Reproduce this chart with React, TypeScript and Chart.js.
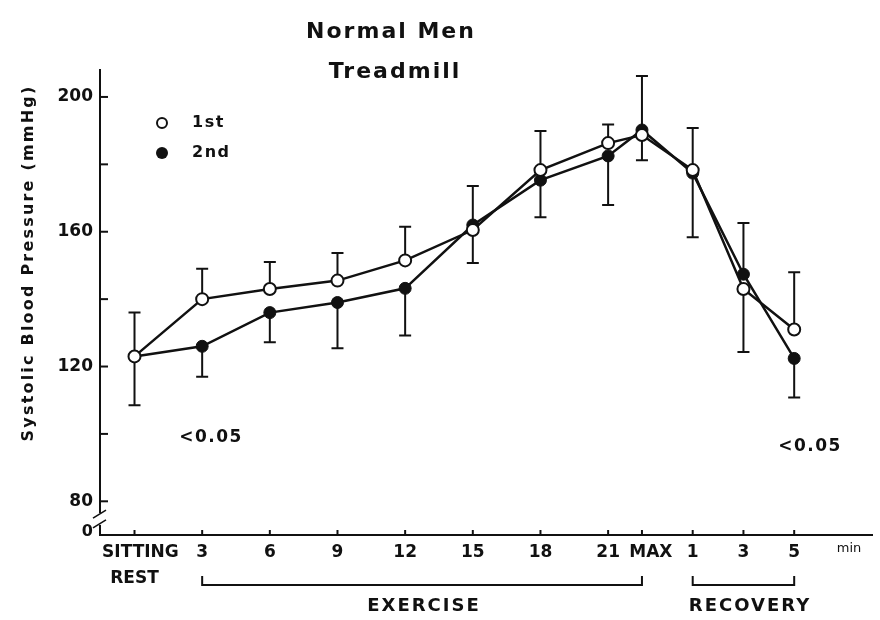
import React, { useEffect, useRef } from 'react';
import { Chart, registerables } from 'chart.js';

Chart.register(...registerables);

// ---- data ----
const categories = ['SITTING REST', '3', '6', '9', '12', '15', '18', '21', 'MAX', '1', '3', '5'];
const tickLabels: (string | string[])[] = [['  SITTING', 'REST'], '3', '6', '9', '12', '15', '18', '21', '   MAX', '1', '3', '5'];
const xSlots = [0, 1, 2, 3, 4, 5, 6, 7, 7.5, 8.25, 9, 9.75];
const firstValues = [123, 140, 143, 145.5, 151.5, 160.5, 178.3, 186.3, 188.7, 178.3, 143, 131];
const secondValues = [123, 126, 136, 139, 143.2, 162, 175.3, 182.5, 190.2, 177.4, 147.4, 122.4];
const firstSD = [13, 9, 8, 8.2, 10, 9.8, 11.6, 5.5, 7.5, 12.5, 18.7, 17];
const secondSD = [14.5, 9, 8.8, 13.6, 14, 11.6, 11, 14.6, 16, 19, 15.2, 11.6];
const yTickValues = [80, 100, 120, 140, 160, 180, 200];
const yLabelEvery = 40;
const unitLabel = 'min';
const unitSlot = 10.56;
const seriesNames = ['1st', '2nd'];
const pNote = '<0.05';
const titleLines = ['Normal Men', 'Treadmill'];
const yTitle = 'Systolic Blood Pressure (mmHg)';
const exerciseRange = [1, 7.5];
const recoveryRange = [8.25, 9.75];

const FONT = '"DejaVu Sans", "Liberation Sans", sans-serif';
const INK = '#111';

const decorPlugin = {
  id: 'decor',
  beforeDatasetsDraw(chart: any) {
    const { ctx, scales } = chart;
    const xs = scales.x, ys = scales.y;
    ctx.save();
    ctx.strokeStyle = INK;
    ctx.lineWidth = 2;
    for (let i = 0; i < xSlots.length; i++) {
      const px = xs.getPixelForValue(xSlots[i]);
      const pairs = [
        [firstValues[i], firstSD[i], secondValues[i], true],
        [secondValues[i], secondSD[i], firstValues[i], false],
      ] as [number, number, number, boolean][];
      for (const [v, sd, other, isFirst] of pairs) {
        const up = isFirst ? v >= other : v > other;
        const end = up ? v + sd : v - sd;
        const y0 = ys.getPixelForValue(v);
        const y1 = ys.getPixelForValue(end);
        ctx.beginPath();
        ctx.moveTo(px, y0);
        ctx.lineTo(px, y1);
        ctx.moveTo(px - 6, y1);
        ctx.lineTo(px + 6, y1);
        ctx.stroke();
      }
    }
    ctx.restore();
  },
  afterDraw(chart: any) {
    const { ctx, scales, chartArea } = chart;
    const xs = scales.x, ys = scales.y;
    ctx.save();
    ctx.strokeStyle = INK;
    ctx.fillStyle = INK;
    ctx.lineWidth = 2;
    // x tick marks (inward)
    for (const s of xSlots) {
      const px = xs.getPixelForValue(s);
      ctx.beginPath();
      ctx.moveTo(px, chartArea.bottom);
      ctx.lineTo(px, chartArea.bottom - 5);
      ctx.stroke();
    }
    // y tick marks (inward)
    for (const v of yTickValues) {
      const py = ys.getPixelForValue(v);
      ctx.beginPath();
      ctx.moveTo(chartArea.left, py);
      ctx.lineTo(chartArea.left + 8, py);
      ctx.stroke();
    }
    // axis break
    const bTop = ys.getPixelForValue(76.5);
    const bBot = ys.getPixelForValue(73);
    ctx.fillStyle = '#fff';
    ctx.fillRect(chartArea.left - 3, bTop, 6, bBot - bTop);
    ctx.fillStyle = INK;
    ctx.lineWidth = 1.6;
    ctx.beginPath();
    ctx.moveTo(chartArea.left - 7, bTop + 5);
    ctx.lineTo(chartArea.left + 6, bTop - 3);
    ctx.moveTo(chartArea.left - 7, bBot + 3);
    ctx.lineTo(chartArea.left + 6, bBot - 5);
    ctx.stroke();
    ctx.lineWidth = 2;

    ctx.textBaseline = 'middle';
    (ctx as any).letterSpacing = '0px';
    // "0" at axis origin
    ctx.font = `bold 16px ${FONT}`;
    ctx.textAlign = 'right';
    ctx.fillText('0', chartArea.left - 7, chartArea.bottom - 3);

    // title
    (ctx as any).letterSpacing = '2px';
    ctx.textAlign = 'center';
    ctx.font = `bold 22px ${FONT}`;
    ctx.fillText(titleLines[0], 391, 32);
    ctx.fillText(titleLines[1], 395, 72);

    // legend
    ctx.lineWidth = 2;
    ctx.beginPath();
    ctx.arc(162, 123, 5, 0, Math.PI * 2);
    ctx.fillStyle = '#fff';
    ctx.fill();
    ctx.stroke();
    ctx.fillStyle = INK;
    ctx.beginPath();
    ctx.arc(162, 153, 6, 0, Math.PI * 2);
    ctx.fill();
    (ctx as any).letterSpacing = '1.5px';
    ctx.font = `bold 16px ${FONT}`;
    ctx.textAlign = 'left';
    ctx.fillText(seriesNames[0], 192, 123);
    ctx.fillText(seriesNames[1], 192, 153);

    // p notes
    (ctx as any).letterSpacing = '1.5px';
    ctx.font = `bold 17px ${FONT}`;
    ctx.textAlign = 'center';
    ctx.fillText(pNote, 211, 438);
    ctx.fillText(pNote, 810, 447);

    // y title
    ctx.save();
    ctx.translate(29, 263);
    ctx.rotate(-Math.PI / 2);
    (ctx as any).letterSpacing = '2.2px';
    ctx.font = `bold 16px ${FONT}`;
    ctx.fillText(yTitle, 0, 0);
    ctx.restore();

    // brackets
    const bracket = (a: number, b: number, label: string, lx?: number) => {
      const x0 = xs.getPixelForValue(a);
      const x1 = xs.getPixelForValue(b);
      const yb = 585, yt = 576;
      ctx.beginPath();
      ctx.moveTo(x0, yt);
      ctx.lineTo(x0, yb);
      ctx.lineTo(x1, yb);
      ctx.lineTo(x1, yt);
      ctx.stroke();
      ctx.font = `bold 18px ${FONT}`;
      (ctx as any).letterSpacing = '2px';
      ctx.textAlign = 'center';
      ctx.fillText(label, lx ?? (x0 + x1) / 2, 606);
    };
    bracket(exerciseRange[0], exerciseRange[1], 'EXERCISE', 424);
    bracket(recoveryRange[0], recoveryRange[1], 'RECOVERY', 750);
    ctx.restore();
  },
};

export default function App() {
  const ref = useRef<HTMLCanvasElement | null>(null);
  useEffect(() => {
    document.body.style.margin = '0';
    const canvas = ref.current!;
    const allTicks = [...xSlots, unitSlot];
    const chart = new Chart(canvas, {
      type: 'line',
      data: {
        datasets: [
          {
            label: seriesNames[0],
            data: xSlots.map((x, i) => ({ x, y: firstValues[i] })),
            borderColor: INK,
            borderWidth: 2.5,
            pointRadius: 6,
            pointBorderWidth: 2,
            pointBackgroundColor: '#fff',
            pointBorderColor: INK,
            tension: 0,
            order: 1,
          },
          {
            label: seriesNames[1],
            data: xSlots.map((x, i) => ({ x, y: secondValues[i] })),
            borderColor: INK,
            borderWidth: 2.5,
            pointRadius: 6,
            pointBorderWidth: 1,
            pointBackgroundColor: INK,
            pointBorderColor: INK,
            tension: 0,
            order: 2,
          },
        ],
      },
      options: {
        responsive: false,
        animation: false,
        devicePixelRatio: 1,
        layout: { padding: { top: 70, right: 3, left: 0, bottom: 0 } },
        plugins: { legend: { display: false }, title: { display: false }, tooltip: { enabled: false } },
        scales: {
          x: {
            type: 'linear',
            min: -0.51,
            max: 10.9,
            afterBuildTicks: (s: any) => {
              s.ticks = allTicks.map((v) => ({ value: v }));
            },
            afterFit: (s: any) => {
              s.height = 85;
            },
            grid: { display: false, drawTicks: false },
            border: { display: true, color: INK, width: 2 },
            ticks: {
              autoSkip: false,
              maxRotation: 0,
              minRotation: 0,
              padding: 4,
              color: INK,
              font: (c: any) => {
                const v = c.tick ? c.tick.value : 0;
                return v === unitSlot
                  ? { family: FONT, size: 13, weight: 'normal', lineHeight: 1.55 }
                  : { family: FONT, size: 17, weight: 'bold', lineHeight: 1.55 };
              },
              callback: (v: any) => {
                if (v === unitSlot) return unitLabel;
                const i = xSlots.indexOf(v);
                return i >= 0 ? tickLabels[i] : '';
              },
            },
          },
          y: {
            type: 'linear',
            min: 70,
            max: 208,
            afterBuildTicks: (s: any) => {
              s.ticks = yTickValues.map((v) => ({ value: v }));
            },
            afterFit: (s: any) => {
              s.width = 100;
            },
            grid: { display: false, drawTicks: false },
            border: { display: true, color: INK, width: 2 },
            ticks: {
              padding: 7,
              color: INK,
              font: { family: FONT, size: 17, weight: 'bold' },
              callback: (v: any) => (v % yLabelEvery === 0 ? String(v) : ''),
            },
          },
        },
      },
      plugins: [decorPlugin],
    } as any);
    return () => chart.destroy();
  }, []);
  return (
    <div style={{ width: 880, height: 620, background: '#fff' }}>
      <canvas ref={ref} width={880} height={620} aria-label={categories.join(', ')} />
    </div>
  );
}
